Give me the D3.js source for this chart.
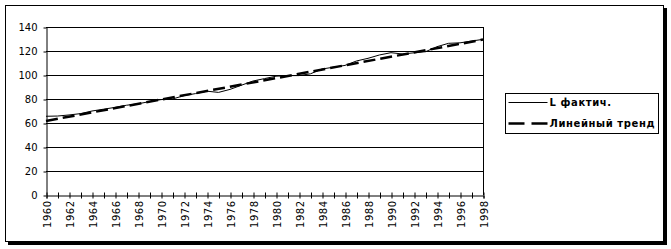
<!DOCTYPE html>
<html>
<head>
<meta charset="utf-8">
<script src="https://cdn.jsdelivr.net/npm/d3@7"></script>
<style>
	body { margin: 0; background: #fff; }
	text { font-family: "DejaVu Sans", sans-serif; fill: #000; }
</style>
</head>
<body>
<svg id="chart" width="671" height="249"></svg>
<script>
// years on x axis
var years = [1960, 1961, 1962, 1963, 1964, 1965, 1966, 1967, 1968, 1969,
	1970, 1971, 1972, 1973, 1974, 1975, 1976, 1977, 1978, 1979,
	1980, 1981, 1982, 1983, 1984, 1985, 1986, 1987, 1988, 1989,
	1990, 1991, 1992, 1993, 1994, 1995, 1996, 1997, 1998];
// L фактич.
var actual = [65.6, 65.8, 66.7, 67.8, 70, 71.5, 73, 74.8, 76, 77.8,
	79.5, 80, 82.8, 84.5, 86.5, 85.5, 88, 91.5, 95, 97,
	99, 99.5, 99.5, 101, 105, 106.5, 108, 111.7, 113.9, 116.7,
	118.6, 117.5, 118.5, 119.4, 123.6, 126.4, 126.8, 128.3, 129.7];
// linear trend end points
var trendYears = [1960, 1998];
var trendValues = [61.7, 129.5];
var yTicks = [0, 20, 40, 60, 80, 100, 120, 140];
var legendLabels = ["L фактич.", "Линейный тренд"];

var svg = d3.select("#chart");

// outer frame with shadow
svg.append("rect").attr("x", 8).attr("y", 8).attr("width", 659).attr("height", 237).attr("fill", "#000");
svg.append("rect").attr("x", 5.5).attr("y", 5.5).attr("width", 658).attr("height", 236)
	.attr("fill", "#fff").attr("stroke", "#000").attr("stroke-width", 1);

var plotLeft = 46, plotRight = 483, plotTop = 27, plotBottom = 195;

var x = d3.scaleLinear().domain([1960, 1998]).range([plotLeft, plotRight]);
var y = d3.scaleLinear().domain([0, 140]).range([plotBottom, plotTop]);

var g = svg.append("g");

// gridlines
g.selectAll(".grid")
	.data(yTicks.filter(function(d) { return d > 0; }))
	.enter().append("line")
	.attr("x1", plotLeft).attr("x2", plotRight)
	.attr("y1", function(d) { return Math.round(y(d)) + 0.5; })
	.attr("y2", function(d) { return Math.round(y(d)) + 0.5; })
	.attr("stroke", "#000");
// right border of plot
g.append("line")
	.attr("x1", plotRight + 0.5).attr("x2", plotRight + 0.5)
	.attr("y1", plotTop).attr("y2", plotBottom)
	.attr("stroke", "#000");

// y axis
var yAxis = g.append("g")
	.attr("transform", "translate(" + (plotLeft + 0.5) + ",0.5)")
	.call(d3.axisLeft(y).tickValues(yTicks).tickSize(3).tickSizeOuter(0).tickPadding(6).tickFormat(d3.format("d")));
yAxis.select(".domain").attr("stroke", "#000");
yAxis.selectAll("text").style("font-size", "10px").attr("font-family", null);
yAxis.selectAll("line").attr("stroke", "#000");

// x axis, cross ticks every year, labels every 2 years
var xAxis = g.append("g")
	.attr("transform", "translate(0.5," + (plotBottom + 0.5) + ")")
	.call(d3.axisBottom(x).tickValues(years).tickSizeOuter(0).tickSize(3)
		.tickFormat(function(d) { return d % 2 === 0 ? d : ""; }));
xAxis.select(".domain").attr("stroke", "#000");
xAxis.selectAll("line").attr("y1", -3).attr("stroke", "#000");
xAxis.selectAll("text")
	.attr("font-family", null)
	.style("font-size", "10px")
	.style("letter-spacing", "0.5px")
	.style("text-anchor", "end")
	.attr("transform", "rotate(-90)")
	.attr("x", -5).attr("y", 0).attr("dy", "0.36em");

// lines
var line = d3.line()
	.x(function(d) { return x(d[0]); })
	.y(function(d) { return y(d[1]); });

g.append("path")
	.datum(years.map(function(yr, i) { return [yr, actual[i]]; }))
	.attr("d", line)
	.attr("fill", "none").attr("stroke", "#000").attr("stroke-width", 1);

g.append("path")
	.datum(trendYears.map(function(yr, i) { return [yr, trendValues[i]]; }))
	.attr("d", line)
	.attr("fill", "none").attr("stroke", "#000").attr("stroke-width", 2.5)
	.attr("stroke-dasharray", "12,5");

// legend
var lg = svg.append("g").attr("transform", "translate(505.5,93.5)");
lg.append("rect").attr("width", 153).attr("height", 40)
	.attr("fill", "#fff").attr("stroke", "#000");
lg.append("line").attr("x1", 3).attr("x2", 42).attr("y1", 9).attr("y2", 9)
	.attr("stroke", "#000").attr("stroke-width", 1);
lg.append("line").attr("x1", 3).attr("x2", 42).attr("y1", 30).attr("y2", 30)
	.attr("stroke", "#000").attr("stroke-width", 2.5).attr("stroke-dasharray", "16,7");
lg.selectAll(".leg")
	.data(legendLabels)
	.enter().append("text")
	.attr("x", 44)
	.attr("y", function(d, i) { return 9 + i * 21; })
	.attr("dy", "0.35em")
	.style("font-size", "10px")
	.style("letter-spacing", "0.6px")
	.style("font-weight", "bold")
	.text(function(d) { return d; });
</script>
</body>
</html>
